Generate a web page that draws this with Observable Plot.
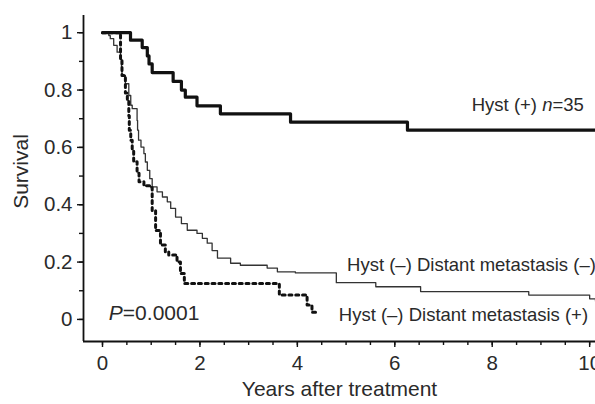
<!DOCTYPE html>
<html><head><meta charset="utf-8">
<script src="https://cdn.jsdelivr.net/npm/d3@7"></script>
<script src="https://cdn.jsdelivr.net/npm/@observablehq/plot@0.6"></script>
<style>body{margin:0;background:#fff}</style>
</head><body><div id="chart"></div>
<script>
// Hyst (+), n = 35
const hystPosT = [0, 0.575, 0.815, 0.92, 0.955, 1.02, 1.45, 1.62, 1.70, 1.94, 2.42, 3.86, 6.26, 10.12];
const hystPosS = [1, 0.974, 0.948, 0.919, 0.891, 0.861, 0.83, 0.80, 0.775, 0.745, 0.717, 0.688, 0.66, 0.66];
// Hyst (–) Distant metastasis (–)
const dmNegT = [0, 0.13, 0.16, 0.23, 0.30, 0.37, 0.39, 0.40, 0.47, 0.54, 0.58, 0.61, 0.71, 0.72, 0.74, 0.79, 0.85, 0.88, 0.92, 0.97, 1.02, 1.12, 1.23, 1.33, 1.40, 1.50, 1.62, 1.74, 1.94, 2.05, 2.15, 2.25, 2.36, 2.63, 2.83, 3.38, 3.59, 3.96, 4.80, 5.61, 6.53, 8.75, 10.0, 10.12];
const dmNegS = [1, 0.99, 0.979, 0.956, 0.932, 0.909, 0.88, 0.851, 0.822, 0.781, 0.747, 0.735, 0.694, 0.66, 0.625, 0.601, 0.578, 0.549, 0.52, 0.491, 0.462, 0.445, 0.427, 0.41, 0.387, 0.357, 0.334, 0.311, 0.30, 0.283, 0.266, 0.24, 0.214, 0.196, 0.189, 0.179, 0.166, 0.162, 0.128, 0.114, 0.097, 0.085, 0.072, 0.064];
// Hyst (–) Distant metastasis (+)
const dmPosT = [0, 0.33, 0.37, 0.40, 0.47, 0.51, 0.54, 0.55, 0.58, 0.61, 0.64, 0.71, 0.75, 0.85, 0.98, 1.02, 1.09, 1.19, 1.29, 1.36, 1.53, 1.60, 1.68, 3.63, 4.2, 4.30, 4.41];
const dmPosS = [1, 1, 0.91, 0.851, 0.79, 0.76, 0.71, 0.66, 0.625, 0.59, 0.55, 0.51, 0.48, 0.466, 0.46, 0.38, 0.31, 0.26, 0.236, 0.225, 0.20, 0.16, 0.125, 0.085, 0.05, 0.025, 0.025];

const xMajor = [0, 2, 4, 6, 8, 10];
const xMinor = d3.range(0, 10.01, 0.5);
const yMajor = [0, 0.2, 0.4, 0.6, 0.8, 1];
const yMinor = d3.range(0, 1.001, 0.1);
const yLabels = ["0", "0.2", "0.4", "0.6", "0.8", "1"];

const toRows = (T, S) => T.map((t, i) => ({t, s: S[i]}));
const hystPos = toRows(hystPosT, hystPosS);
const dmNeg = toRows(dmNegT, dmNegS);
const dmPos = toRows(dmPosT, dmPosS);

const font = "'Liberation Sans', Arial, Helvetica, sans-serif";
const ink = "#2a2a2a";

const chart = Plot.plot({
  width: 595, height: 404,
  marginLeft: 83, marginRight: 0, marginTop: 15, marginBottom: 63,
  x: {domain: [-0.39, 10.12]},
  y: {domain: [-0.077, 1.06]},
  style: {fontFamily: font, fontSize: "20px", color: ink, background: "#fff", overflow: "visible"},
  marks: [
    Plot.axisX({ticks: xMinor, tickSize: 4, tickFormat: () => "", label: null, stroke: "#111", strokeWidth: 1.4}),
    Plot.axisX({ticks: xMajor, tickSize: 6, tickPadding: 8, tickFormat: d => String(d), label: null, stroke: "#111", strokeWidth: 1.4, fill: ink, fontSize: 20.5}),
    Plot.axisY({ticks: yMinor, tickSize: 4, tickFormat: () => "", label: null, stroke: "#111", strokeWidth: 1.4}),
    Plot.axisY({ticks: yMajor, tickSize: 6, tickPadding: 5, tickFormat: (d, i) => yLabels[i], label: null, stroke: "#111", strokeWidth: 1.4, fill: ink, fontSize: 20.5}),
    Plot.ruleX([-0.39], {y1: -0.077, y2: 1.06, stroke: "#111", strokeWidth: 1.8}),
    Plot.ruleY([-0.077], {x1: -0.39, x2: 10.12, stroke: "#111", strokeWidth: 1.8}),
    Plot.line(dmNeg, {x: "t", y: "s", curve: "step-after", stroke: "#333", strokeWidth: 1.3}),
    Plot.line(dmPos, {x: "t", y: "s", curve: "step-after", stroke: "#111", strokeWidth: 3, strokeDasharray: "3,3.8"}),
    Plot.line(hystPos, {x: "t", y: "s", curve: "step-after", stroke: "#111", strokeWidth: 3.2}),
    Plot.text(["Hyst (+) n=35"], {x: 7.58, y: 0.746, textAnchor: "start", fontSize: 18.5, fill: ink}),
    Plot.text(["Hyst (–) Distant metastasis (–)"], {x: 5.02, y: 0.188, textAnchor: "start", fontSize: 18.5, fill: ink}),
    Plot.text(["Hyst (–) Distant metastasis (+)"], {x: 4.85, y: 0.014, textAnchor: "start", fontSize: 18.5, fill: ink}),
    Plot.text(["P=0.0001"], {x: 0.13, y: 0.02, textAnchor: "start", fontSize: 21, fill: ink}),
    Plot.text(["Years after treatment"], {frameAnchor: "bottom", dy: 54, fontSize: 21, fill: ink}),
    Plot.text(["Survival"], {frameAnchor: "left", textAnchor: "middle", rotate: -90, dx: -62, dy: -7, fontSize: 21, fill: ink})
  ]
});

d3.select(chart).selectAll("text").each(function() {
  const t = this.textContent;
  const sel = d3.select(this);
  if (t === "Hyst (+) n=35") {
    sel.text(null);
    sel.append("tspan").text("Hyst (+) ");
    sel.append("tspan").attr("font-style", "italic").text("n");
    sel.append("tspan").text("=35");
  } else if (t === "P=0.0001") {
    sel.text(null);
    sel.append("tspan").attr("font-style", "italic").text("P");
    sel.append("tspan").text("=0.0001");
  }
});

document.getElementById("chart").appendChild(chart);
</script>
</body></html>
